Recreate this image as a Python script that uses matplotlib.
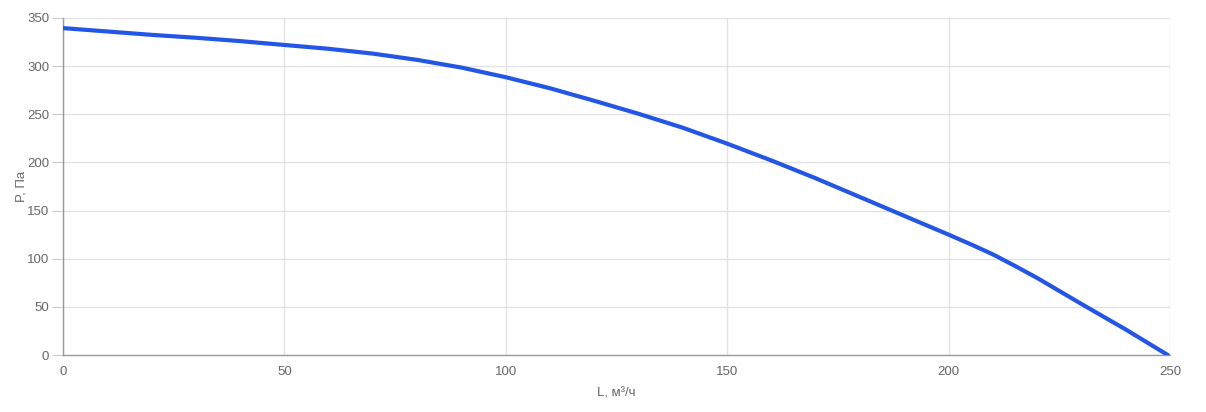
import matplotlib
matplotlib.use("Agg")
import matplotlib.pyplot as plt

plt.rcParams['font.family'] = ['Liberation Sans', 'DejaVu Sans']

# расход (м³/ч) и давление (Па)
L_vals = [0, 10, 20, 30, 40, 50, 60, 70, 80, 90, 100, 110, 120, 130, 140,
          150, 160, 170, 180, 190, 200, 205, 210, 215, 220, 230, 240, 249.5]
P_vals = [339.5, 336, 332.5, 329.5, 326, 322, 318, 313, 306.5, 298.5, 288.5, 277, 264, 250.5, 236,
          219.5, 202, 183.5, 164, 144.5, 125, 115, 104.5, 92.5, 80, 53, 26.5, 0]

x_ticks = [0, 50, 100, 150, 200, 250]
y_ticks = [0, 50, 100, 150, 200, 250, 300, 350]

fig = plt.figure(figsize=(12.06, 4.12), dpi=100)
ax = fig.add_axes([63 / 1206, 57 / 412, (1170 - 63) / 1206, (355 - 18) / 412])

ax.plot(L_vals, P_vals, color='#2456e6', lw=3, solid_capstyle='round',
        solid_joinstyle='round', zorder=3)

ax.set_xlim(0, 250)
ax.set_ylim(0, 350)
ax.set_xticks(x_ticks)
ax.set_yticks(y_ticks)
ax.grid(True, color='#e2e2e2', lw=1)
ax.set_axisbelow(True)

for s in ['top', 'right']:
    ax.spines[s].set_visible(False)
for s in ['left', 'bottom']:
    ax.spines[s].set_color('#9a9a9a')
    ax.spines[s].set_linewidth(1)

ax.tick_params(axis='y', length=8, color='#cccccc', labelsize=9.5, labelcolor='#666666', pad=2)
ax.tick_params(axis='x', length=0, labelsize=9.5, labelcolor='#666666', pad=8)

ax.set_xlabel('L, м³/ч', fontsize=9.5, color='#666666')
ax.set_ylabel('P, Па', fontsize=9.5, color='#666666')
ax.xaxis.set_label_coords(0.5, -(388 - 355) / 337, transform=ax.transAxes)
ax.yaxis.set_label_coords(-(63 - 28) / 1107, 0.5, transform=ax.transAxes)

fig.savefig('out.png', dpi=100, facecolor='white')
